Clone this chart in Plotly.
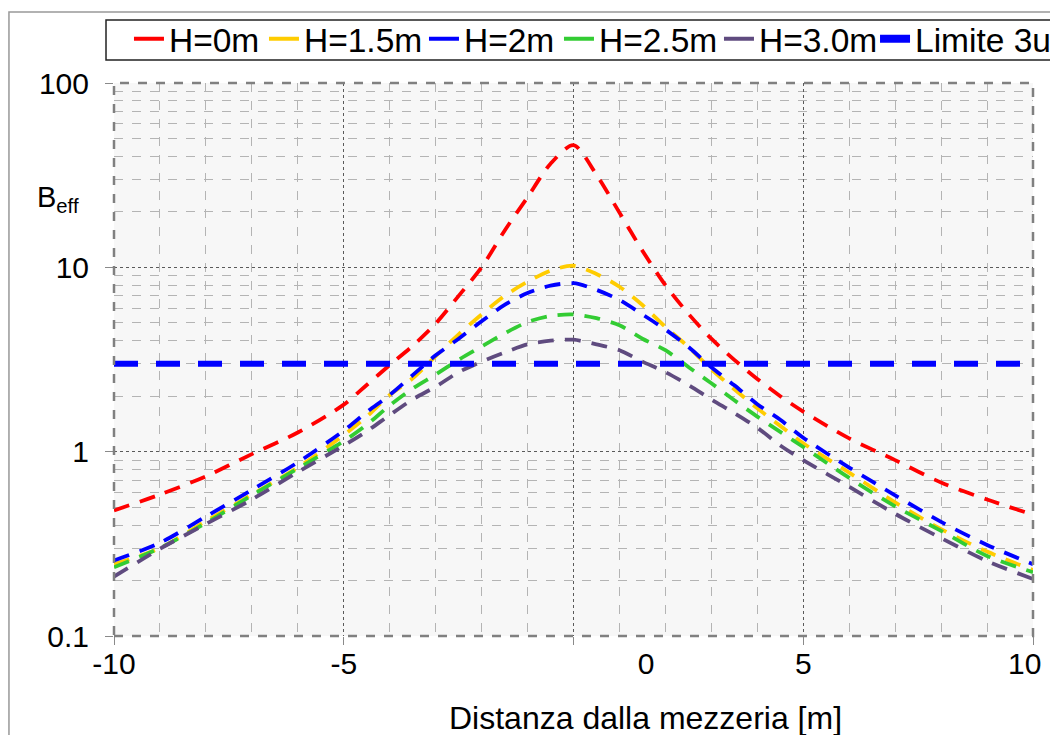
import plotly.graph_objects as go

# ---------------- data ----------------
x_dist = [-10, -9, -8, -7, -6, -5, -4.5, -4, -3.5, -3, -2.5, -2, -1.5, -1, -0.5,
          0, 0.5, 1, 1.5, 2, 2.5, 3, 3.5, 4, 4.5, 5, 6, 7, 8, 9, 10]

b_h0 = [0.48, 0.585, 0.735, 0.97, 1.27, 1.80, 2.3, 2.95, 3.75, 4.95, 7.0, 10.0, 15.8, 24.0, 36.5,
        46, 31.8, 19.8, 12.3, 8.0, 5.6, 4.1, 3.15, 2.48, 2.0, 1.65, 1.18, 0.90, 0.68, 0.55, 0.455]

b_h15 = [0.245, 0.30, 0.42, 0.585, 0.82, 1.23, 1.55, 2.03, 2.5, 3.3, 4.33, 5.55, 7.0, 8.35, 9.6,
         10.2, 9.2, 7.85, 6.25, 4.75, 3.7, 2.8, 2.18, 1.72, 1.38, 1.11, 0.77, 0.53, 0.38, 0.287, 0.228]

b_h2 = [0.257, 0.32, 0.445, 0.62, 0.875, 1.3, 1.64, 2.03, 2.6, 3.33, 4.1, 5.1, 6.25, 7.25, 7.95,
        8.2, 7.55, 6.65, 5.55, 4.6, 3.7, 2.87, 2.29, 1.81, 1.49, 1.19, 0.82, 0.58, 0.416, 0.312, 0.245]

b_h25 = [0.236, 0.30, 0.41, 0.58, 0.81, 1.14, 1.40, 1.78, 2.2, 2.62, 3.15, 3.72, 4.38, 5.05, 5.45,
         5.55, 5.3, 4.85, 4.1, 3.55, 2.88, 2.35, 1.9, 1.55, 1.28, 1.06, 0.72, 0.505, 0.372, 0.272, 0.222]

b_h30 = [0.21, 0.297, 0.405, 0.55, 0.775, 1.08, 1.29, 1.58, 1.92, 2.25, 2.7, 3.08, 3.45, 3.82, 4.0,
         4.05, 3.82, 3.55, 3.08, 2.7, 2.3, 1.92, 1.62, 1.35, 1.08, 0.9, 0.645, 0.46, 0.34, 0.255, 0.204]

limit_x = [-10, 10]
limit_y = [3, 3]

series_names = ["H=0m", "H=1.5m", "H=2m", "H=2.5m", "H=3.0m"]
series_vals = [b_h0, b_h15, b_h2, b_h25, b_h30]
series_colors = ["#FF0000", "#FFCC00", "#0000FF", "#33CC33", "#5F4B7F"]
limit_name = "Limite 3uT"
limit_color = "#0000FF"

x_tick_vals = [-10, -5, 0, 5, 10]
x_label_pos = [-10, -5, 1.58, 5, 9.82]
x_label_text = ["-10", "-5", "0", "5", "10"]
y_tick_vals = [0.1, 1, 10, 100]
y_tick_text = ["0.1", "1", "10", "100"]

FONT = "Liberation Sans, Arial, sans-serif"

# one legend box per entry so the row can run past the right edge like the original
legend_ids = ["legend", "legend2", "legend3", "legend4", "legend5", "legend6"]
legend_x = [0.0163, 0.1632, 0.3373, 0.4842, 0.6583, 0.8281]

fig = go.Figure()

for name, vals, col in zip(series_names, series_vals, series_colors):
    fig.add_trace(go.Scatter(
        x=x_dist, y=vals, mode="lines", name=name, showlegend=False,
        line=dict(color=col, width=3.8, dash="16px,11px", shape="spline", smoothing=0.8),
    ))

fig.add_trace(go.Scatter(
    x=limit_x, y=limit_y, mode="lines", name=limit_name, showlegend=False, xaxis="x2",
    line=dict(color=limit_color, width=6, dash="24px,18px"),
))

# legend entries (solid symbols like the reference)
for name, col, lid in zip(series_names, series_colors, legend_ids[:5]):
    fig.add_trace(go.Scatter(x=[None], y=[None], mode="lines", name=name, legend=lid,
                             line=dict(color=col, width=4)))
fig.add_trace(go.Scatter(x=[None], y=[None], mode="lines", name=limit_name, legend=legend_ids[5],
                         line=dict(color=limit_color, width=8)))

minor_x = [v for v in range(-9, 10) if v % 5 != 0]
minor_y = [m * d for d in (0.1, 1, 10) for m in range(2, 10)]

legend_common = dict(orientation="h", xanchor="left", y=1.131, yanchor="top",
                     bgcolor="rgba(0,0,0,0)", borderwidth=0,
                     font=dict(family=FONT, size=33.5, color="black"))
legend_layout = {lid: dict(x=lx, **legend_common) for lid, lx in zip(legend_ids, legend_x)}

fig.update_layout(
    width=1050, height=727,
    margin=dict(l=106, r=25, t=75, b=99, autoexpand=False),
    paper_bgcolor="white", plot_bgcolor="#F7F7F7",
    font=dict(family=FONT, size=30, color="black"),
    showlegend=True,
    **legend_layout,
    xaxis=dict(range=[-10, 10], tickvals=x_tick_vals, showticklabels=False,
               showgrid=True, gridcolor="#5a5a5a", griddash="dot", gridwidth=1,
               zeroline=False, ticks="outside", ticklen=8, tickcolor="#8a8a8a",
               showline=False,
               minor=dict(tickvals=minor_x, showgrid=True, gridcolor="#b4b4b4",
                          griddash="dash", gridwidth=1)),
    xaxis2=dict(range=[-10, 10], overlaying="x", anchor="y", side="bottom",
                tickvals=x_label_pos, ticktext=x_label_text, showgrid=False,
                zeroline=False, ticks="", tickfont=dict(family=FONT, size=30, color="black"),
                ticklabelstandoff=7),
    yaxis=dict(type="log", range=[-1, 2], tickvals=y_tick_vals, ticktext=y_tick_text,
               showgrid=True, gridcolor="#5a5a5a", griddash="dot", gridwidth=1,
               zeroline=False, ticks="outside", ticklen=8, tickcolor="#8a8a8a",
               tickfont=dict(family=FONT, size=30, color="black"),
               ticklabelstandoff=10,
               minor=dict(tickvals=minor_y, showgrid=True, gridcolor="#b4b4b4",
                          griddash="dash", gridwidth=1)),
)

fig.add_annotation(text="Distanza dalla mezzeria [m]", xref="paper", yref="paper",
                   x=0.578, y=-0.148, xanchor="center", yanchor="middle", showarrow=False,
                   font=dict(family=FONT, size=32, color="black"))
fig.add_annotation(text="B<sub>eff</sub>", xref="paper", yref="paper",
                   x=-0.086, y=0.79, xanchor="left", yanchor="middle", showarrow=False,
                   font=dict(family=FONT, size=29, color="black"))

# plot-area border (dashed grey)
fig.add_shape(type="rect", xref="paper", yref="paper", x0=0, x1=1, y0=0, y1=1,
              line=dict(color="#808080", width=2.5, dash="dash"), layer="above")
# outer frame
fig.add_shape(type="rect", xref="paper", yref="paper", x0=-0.1143, x1=1.2, y0=-0.4, y1=1.1284,
              line=dict(color="#999999", width=1.5), layer="below")
# legend box
fig.add_shape(type="rect", xref="paper", yref="paper", x0=-0.0087, x1=1.024, y0=1.0416, y1=1.1139,
              line=dict(color="#222222", width=1.5), fillcolor="white", layer="below")

fig.write_html("out.html")
